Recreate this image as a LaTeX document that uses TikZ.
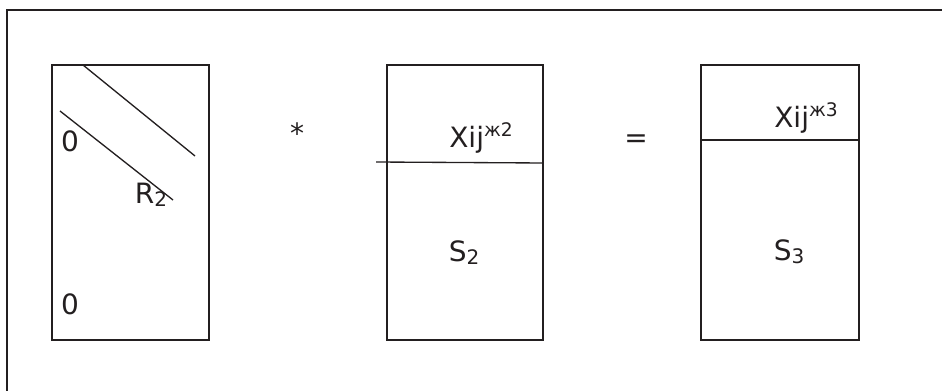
\documentclass[tikz,border=0pt]{standalone}
\usepackage{fontspec}
\setmainfont{DejaVu Sans}
\tikzset{every picture/.style={line width=0.75pt}}
\tikzset{
matrixbox/.style={line width=1.5pt, draw={rgb, 255:red, 35; green, 31; blue, 32 }},
thinline/.style={line width=1pt, draw={rgb, 255:red, 35; green, 31; blue, 32 }},
labeltext/.style={inner sep=0.75pt, font=\fontsize{21}{25}\selectfont, text={rgb, 255:red, 35; green, 31; blue, 32 }}}
\newcommand{\supidx}[1]{\raisebox{0.42em}{\fontsize{14}{16}\selectfont #1}}
\newcommand{\subidx}[1]{\raisebox{-0.1em}{\fontsize{15}{17}\selectfont #1}}
\begin{document}
\begin{tikzpicture}[x=0.75pt,y=0.75pt,yscale=-1,xscale=1]
\useasboundingbox (0,0) rectangle (942,391);

%Frame (cut by the page)
\draw  [matrixbox] (7,391) -- (7,10) -- (942,10) ;
%Shape: Rectangle [left matrix]
\draw  [matrixbox] (52,65) -- (209,65) -- (209,340) -- (52,340) -- cycle ;
%Shape: Rectangle [middle matrix]
\draw  [matrixbox] (387,65) -- (543,65) -- (543,340) -- (387,340) -- cycle ;
%Shape: Rectangle [right matrix]
\draw  [matrixbox] (701,65) -- (859,65) -- (859,340) -- (701,340) -- cycle ;
%Straight Lines [diagonals]
\draw  [thinline] (83,65) -- (195,156) ;
\draw  [thinline] (60,111) -- (173,200) ;
%Straight Lines [dividers]
\draw  [thinline] (376,162) -- (543,163) ;
\draw  [thinline] (701,140) -- (859,140) ;

% Text Node
\draw (70,141) node [labeltext] (zeroTop) {0};
% Text Node
\draw (70,304) node [labeltext] (zeroBot) {0};
% Text Node
\draw (151,195) node [labeltext] (rTwo) {R\subidx{2}};
% Text Node
\draw (297,133) node [labeltext] (opMul) {*};
% Text Node
\draw (481,138) node [labeltext] (xTwo) {Xij\supidx{ж2}};
% Text Node
\draw (464,253) node [labeltext] (sTwo) {S\subidx{2}};
% Text Node
\draw (636,141) node [labeltext] (opEq) {=};
% Text Node
\draw (806,118) node [labeltext] (xThree) {Xij\supidx{ж3}};
% Text Node
\draw (789,252) node [labeltext] (sThree) {S\subidx{3}};

\end{tikzpicture}
\end{document}
